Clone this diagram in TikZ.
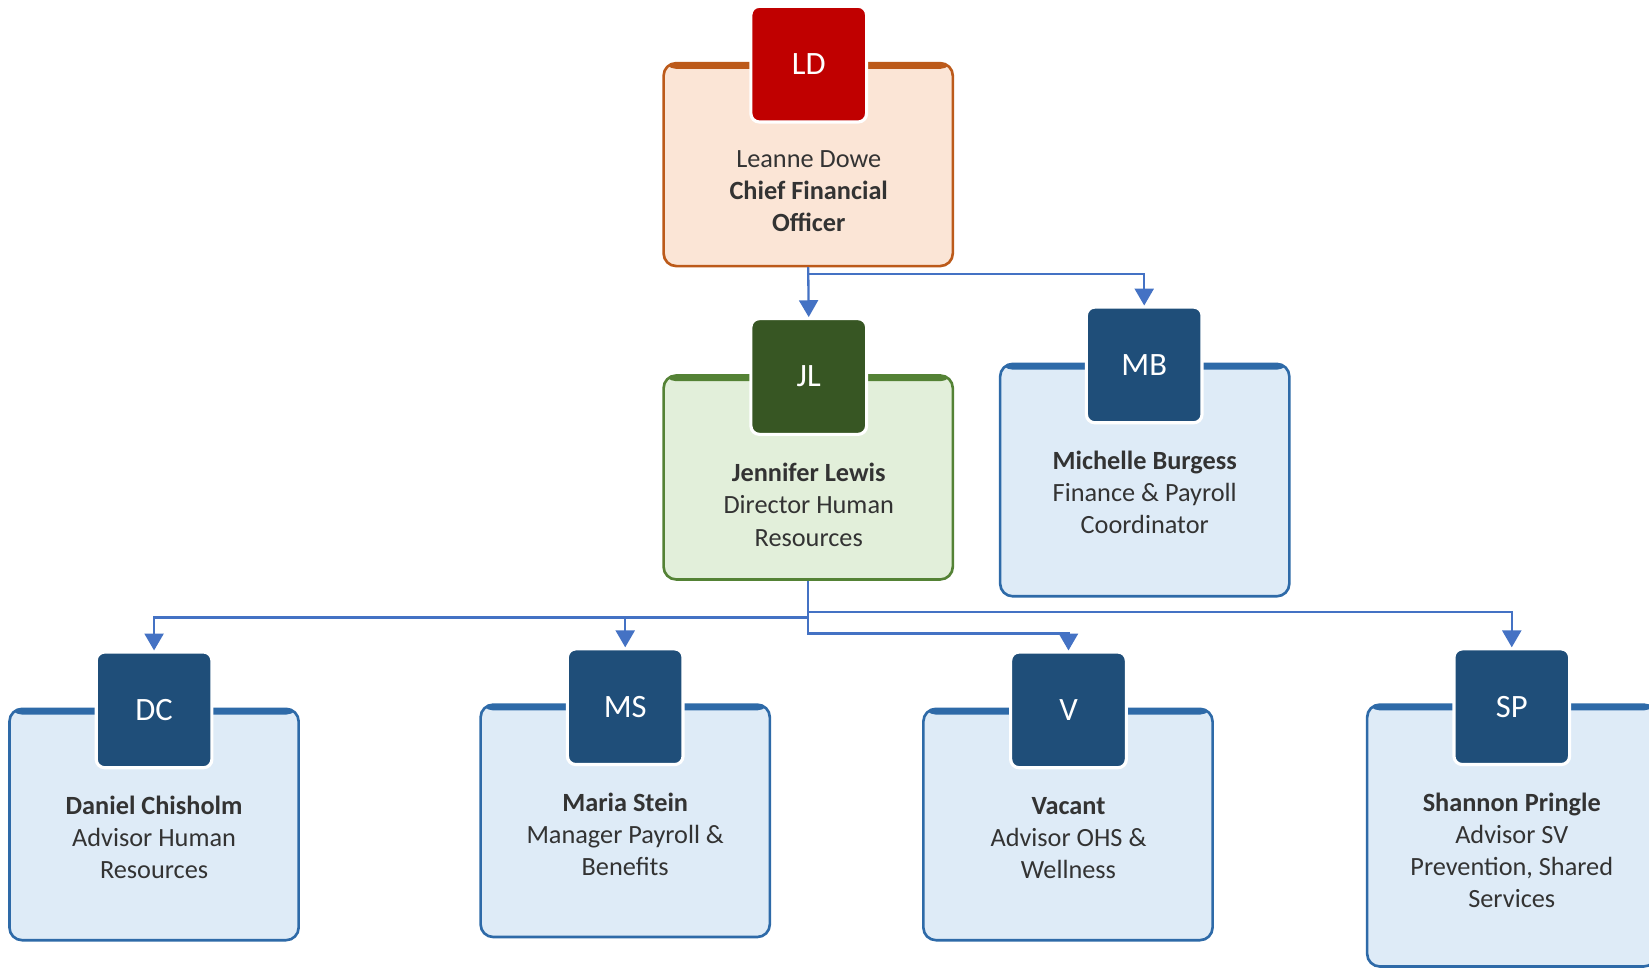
\documentclass[tikz,border=0pt]{standalone}
\usepackage{fontspec}
\setmainfont{Carlito}
\usetikzlibrary{arrows.meta}
\definecolor{ldav}{HTML}{C00000}
\definecolor{ldfill}{HTML}{FBE5D6}
\definecolor{ldline}{HTML}{BC5A1A}
\definecolor{jlav}{HTML}{375623}
\definecolor{jlfill}{HTML}{E2EFDA}
\definecolor{jlline}{HTML}{548235}
\definecolor{bav}{HTML}{1F4E79}
\definecolor{bfill}{HTML}{DEEBF7}
\definecolor{bline}{HTML}{2E6AA8}
\definecolor{conncol}{HTML}{4472C4}
\definecolor{txtcol}{HTML}{333333}
\tikzset{
  cardbox/.style={rounded corners=12pt, minimum width=275pt, inner sep=0pt, line width=2.5pt,
    draw=#1line, fill=#1fill,
    path picture={\fill[#1line] (path picture bounding box.north west) rectangle ([yshift=-5.5pt]path picture bounding box.north east);}},
  avatar/.style={rounded corners=8pt, minimum size=110pt, inner sep=0pt, draw=white, line width=3pt,
    fill=#1, text=white, font=\fontsize{31}{36}\selectfont},
  cardtext/.style={align=center, text=txtcol, font=\fontsize{25}{30.5}\selectfont, inner sep=0pt},
  conn/.style={draw=conncol, line width=2.2pt, -{Triangle[width=18pt,length=16pt]}}
}
\begin{document}
\begin{tikzpicture}[x=1pt,y=-1pt]
\useasboundingbox (0,0) rectangle (1568,920.4);
\clip (0,0) rectangle (1568,920.4);
\fill[white] (0,0) rectangle (1568,920.4);
% boxes
\node[cardbox=ld, minimum height=193pt] (ldbox) at (768.5,156.5) {};
\node[cardbox=jl, minimum height=194pt] (jlbox) at (768.5,454) {};
\node[cardbox=b, minimum height=221pt] (mbbox) at (1088.5,456.5) {};
\node[cardbox=b, minimum height=220pt] (dcbox) at (146.5,784) {};
\node[cardbox=b, minimum height=221pt] (msbox) at (594.5,780.5) {};
\node[cardbox=b, minimum height=220pt] (vbox) at (1015.5,784) {};
\node[cardbox=b, minimum height=249pt] (spbox) at (1437.5,794.5) {};
% avatars
\node[avatar=ldav] (ldav) at (769,61) {LD};
\node[avatar=jlav] (jlav) at (769,358) {JL};
\node[avatar=bav] (mbav) at (1088,347) {MB};
\node[avatar=bav] (dcav) at (146.5,675) {DC};
\node[avatar=bav] (msav) at (594.5,672) {MS};
\node[avatar=bav] (vav) at (1016,675) {V};
\node[avatar=bav] (spav) at (1437.5,672) {SP};
% connectors
\draw[conn] (ldbox.south) -- (jlav.north);
\draw[conn] (ldbox.south) -- ++(0,6) -| (mbav.north);
\draw[conn] (jlbox.south) -- ++(0,35) -| (dcav.north);
\draw[conn] (jlbox.south) -- ++(0,35) -| (msav.north);
\draw[conn] (jlbox.south) -- ++(0,50) -| (vav.north);
\draw[conn] (jlbox.south) -- ++(0,30) -| (spav.north);
% texts
\node[cardtext] (ldtxt) at (769,182) {Leanne Dowe\\\textbf{Chief Financial}\\\textbf{Officer}};
\node[cardtext] (jltxt) at (769,480) {\textbf{Jennifer Lewis}\\Director Human\\Resources};
\node[cardtext] (mbtxt) at (1088.5,468.5) {\textbf{Michelle Burgess}\\Finance \& Payroll\\Coordinator};
\node[cardtext] (dctxt) at (146.5,796.5) {\textbf{Daniel Chisholm}\\Advisor Human\\Resources};
\node[cardtext] (mstxt) at (594.5,793.5) {\textbf{Maria Stein}\\Manager Payroll \&\\Benefits};
\node[cardtext] (vtxt) at (1016,796.5) {\textbf{Vacant}\\Advisor OHS \&\\Wellness};
\node[cardtext] (sptxt) at (1437.5,808.5) {\textbf{Shannon Pringle}\\Advisor SV\\Prevention, Shared\\Services};
\end{tikzpicture}
\end{document}
